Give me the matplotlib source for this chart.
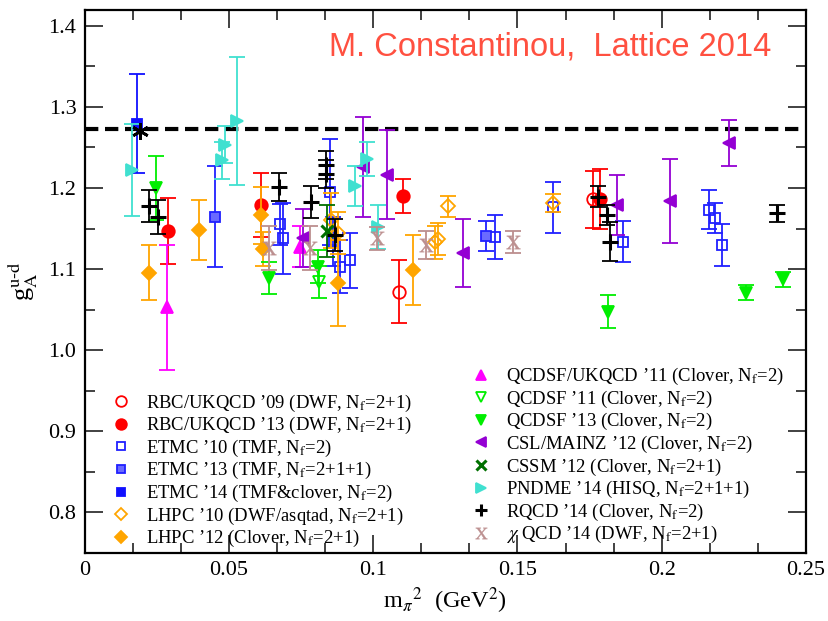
import numpy as np
import matplotlib
matplotlib.use("Agg")
import matplotlib.pyplot as plt
from matplotlib.lines import Line2D

plt.rcParams['font.family'] = ['Liberation Serif', 'DejaVu Serif']
plt.rcParams['mathtext.fontset'] = 'stix'

# ---- data: (m_pi^2, g_A, error) ----
rbc09_x = [0.109, 0.1763]
rbc09_y = [1.072, 1.186]
rbc09_e = [0.039, 0.035]

rbc13_x = [0.029, 0.0611, 0.1102, 0.1786]
rbc13_y = [1.147, 1.179, 1.190, 1.186]
rbc13_e = [0.041, 0.040, 0.021, 0.037]

etmc10_x = [0.0677, 0.0688, 0.085, 0.086, 0.0885, 0.092, 0.1422, 0.1624, 0.1865, 0.2165, 0.2185, 0.2208]
etmc10_y = [1.155, 1.138, 1.195, 1.134, 1.103, 1.111, 1.140, 1.176, 1.134, 1.173, 1.163, 1.130]
etmc10_e = [0.025, 0.044, 0.065, 0.030, 0.033, 0.034, 0.027, 0.031, 0.025, 0.024, 0.018, 0.026]

etmc13_x = [0.0452, 0.1391]
etmc13_y = [1.1645, 1.1407]
etmc13_e = [0.062, 0.018]

etmc14_x = [0.0182]
etmc14_y = [1.279]
etmc14_e = [0.061]

lhpc10_x = [0.0853, 0.0879, 0.1215, 0.1225, 0.126, 0.1622]
lhpc10_y = [1.160, 1.144, 1.133, 1.137, 1.1776, 1.181]
lhpc10_e = [0.034, 0.026, 0.020, 0.020, 0.013, 0.011]

lhpc12_x = [0.0223, 0.0397, 0.0611, 0.0619, 0.0879, 0.1139]
lhpc12_y = [1.0956, 1.148, 1.1665, 1.1247, 1.083, 1.099]
lhpc12_e = [0.034, 0.037, 0.035, 0.021, 0.053, 0.043]

qcdsfuk11_x = [0.0284, 0.0746]
qcdsfuk11_y = [1.053, 1.1276]
qcdsfuk11_e = [0.077, 0.025]

qcdsf11_x = [0.0813]
qcdsf11_y = [1.084]
qcdsf11_e = [0.020]

qcdsf13_x = [0.0247, 0.064, 0.081, 0.1815, 0.2292, 0.2419]
qcdsf13_y = [1.200, 1.0887, 1.103, 1.0477, 1.071, 1.0875]
qcdsf13_e = [0.040, 0.020, 0.020, 0.020, 0.009, 0.009]

csl12_x = [0.0758, 0.0966, 0.1047, 0.1312, 0.1844, 0.2029, 0.2234]
csl12_y = [1.138, 1.226, 1.2165, 1.120, 1.179, 1.1837, 1.2554]
csl12_e = [0.036, 0.062, 0.055, 0.042, 0.037, 0.052, 0.028]

cssm12_x = [0.0841]
cssm12_y = [1.147]
cssm12_e = [0.032]

pndme14_x = [0.0163, 0.0475, 0.0486, 0.0527, 0.0937, 0.0977, 0.1018]
pndme14_y = [1.222, 1.234, 1.2534, 1.2824, 1.2022, 1.236, 1.152]
pndme14_e = [0.057, 0.0225, 0.023, 0.079, 0.025, 0.021, 0.027]

rqcd14_x = [0.0224, 0.0253, 0.0675, 0.0783, 0.0836, 0.0836, 0.0868, 0.178, 0.1809, 0.182, 0.2401]
rqcd14_y = [1.178, 1.1637, 1.2013, 1.183, 1.228, 1.2175, 1.142, 1.189, 1.1665, 1.1337, 1.1686]
rqcd14_e = [0.020, 0.021, 0.017, 0.020, 0.017, 0.017, 0.020, 0.013, 0.012, 0.024, 0.011]

xqcd14_x = [0.064, 0.0781, 0.1012, 0.1183, 0.1486]
xqcd14_y = [1.1256, 1.1256, 1.138, 1.1297, 1.1337]
xqcd14_e = [0.027, 0.027, 0.014, 0.017, 0.0135]

phys_x = [0.0192]
phys_y = [1.270]
g_exp = 1.2723

NF = r'N$_{\rm f}$'
Q = '\u2019'
series = [
    # x, y, err, color, marker, filled, size, label, column
    (rbc09_x, rbc09_y, rbc09_e, '#ff0000', 'o', False, 9, "RBC/UKQCD " + Q + "09 (DWF, " + NF + "=2+1)", 0),
    (rbc13_x, rbc13_y, rbc13_e, '#ff0000', 'o', True, 9, "RBC/UKQCD " + Q + "13 (DWF, " + NF + "=2+1)", 0),
    (etmc10_x, etmc10_y, etmc10_e, '#2020ff', 's', False, 6.5, "ETMC " + Q + "10 (TMF, " + NF + "=2)", 0),
    (etmc13_x, etmc13_y, etmc13_e, '#2020ff', 's', 'hatch', 6.5, "ETMC " + Q + "13 (TMF, " + NF + "=2+1+1)", 0),
    (etmc14_x, etmc14_y, etmc14_e, '#1010ff', 's', True, 6.5, "ETMC " + Q + "14 (TMF&clover, " + NF + "=2)", 0),
    (lhpc10_x, lhpc10_y, lhpc10_e, '#ffa500', 'D', False, 7, "LHPC " + Q + "10 (DWF/asqtad, " + NF + "=2+1)", 0),
    (lhpc12_x, lhpc12_y, lhpc12_e, '#ffa500', 'D', True, 7, "LHPC " + Q + "12 (Clover, " + NF + "=2+1)", 0),
    (qcdsfuk11_x, qcdsfuk11_y, qcdsfuk11_e, '#ff00ff', '^', True, 9, "QCDSF/UKQCD " + Q + "11 (Clover, " + NF + "=2)", 1),
    (qcdsf11_x, qcdsf11_y, qcdsf11_e, '#00ee00', 'v', False, 9, "QCDSF " + Q + "11 (Clover, " + NF + "=2)", 1),
    (qcdsf13_x, qcdsf13_y, qcdsf13_e, '#00ee00', 'v', True, 9, "QCDSF " + Q + "13 (Clover, " + NF + "=2)", 1),
    (csl12_x, csl12_y, csl12_e, '#9400d3', '<', True, 9, "CSL/MAINZ " + Q + "12 (Clover, " + NF + "=2)", 1),
    (cssm12_x, cssm12_y, cssm12_e, '#007000', 'x', True, 8, "CSSM " + Q + "12 (Clover, " + NF + "=2+1)", 1),
    (pndme14_x, pndme14_y, pndme14_e, '#40e0d0', '>', True, 9, "PNDME " + Q + "14 (HISQ, " + NF + "=2+1+1)", 1),
    (rqcd14_x, rqcd14_y, rqcd14_e, '#000000', '+', True, 11, "RQCD " + Q + "14 (Clover, " + NF + "=2)", 1),
    (xqcd14_x, xqcd14_y, xqcd14_e, '#bc8f8f', r'$\mathrm{X}$', True, 10, r"$\chi$ QCD " + Q + "14 (DWF, " + NF + "=2+1)", 1),
]

fig = plt.figure(figsize=(8.29, 6.21), dpi=100)
ax = fig.add_axes([84.7 / 829, 1 - 553 / 621, (806 - 84.7) / 829, (553 - 9.5) / 621])

ax.axhline(g_exp, color='black', lw=3, ls=(0, (3.2, 1.6)), zorder=1)

handles = [[], []]
for x, y, e, c, m, filled, ms, lab, col in series:
    if filled == 'hatch':
        fc = '#6a6aff'
    elif filled:
        fc = c
    else:
        fc = 'none'
    if m in ('+', 'x'):
        mew = 2.2
    elif m.startswith('$'):
        mew = 0.3
    else:
        mew = 1.3
    ax.errorbar(x, y, yerr=e, fmt='none', ecolor=c, elinewidth=1.3, capsize=5.5,
                capthick=1.3, zorder=3)
    ax.plot(x, y, ls='none', marker=m, color=c, mfc=fc, mec=c, ms=ms, mew=mew, zorder=3)
    handles[col].append(Line2D([], [], ls='none', marker=m, color=c, mfc=fc, mec=c,
                               ms=ms * 0.85, mew=mew, label=lab))

ax.plot(phys_x, phys_y, ls='none', marker=(6, 2, 0), color='black', ms=12, mew=2, zorder=4)

ax.set_xlim(0, 0.25)
ax.set_ylim(0.75, 1.42)
ax.set_xticks([0, 0.05, 0.1, 0.15, 0.2, 0.25])
ax.set_xticklabels(['0', '0.05', '0.1', '0.15', '0.2', '0.25'])
ax.set_xticks(np.arange(0, 0.2501, 0.05 / 3), minor=True)
ax.set_yticks([0.8, 0.9, 1.0, 1.1, 1.2, 1.3, 1.4])
ax.set_yticks(np.arange(0.75, 1.42, 0.05), minor=True)
ax.tick_params(which='both', direction='in', top=True, right=True, color='#333333', width=1.3,
               labelsize=16, pad=6)
ax.tick_params(which='major', length=13)
ax.tick_params(which='minor', length=7)
for s in ax.spines.values():
    s.set_linewidth(1.6)

ax.set_xlabel(r'm$_\pi$$^2$  (GeV$^2$)', fontsize=17.5, labelpad=4)
ax.set_ylabel(r'g$_{\rm A}^{\rm u\text{-}d}$', fontsize=19, labelpad=6)

fig.text(0.664, 0.9245, 'M. Constantinou,  Lattice 2014', color='#ff5040',
         family='Liberation Sans', fontsize=23.5, ha='center', va='center')

kw = dict(frameon=False, fontsize=13.4, handlelength=1.0, handletextpad=0.85,
          borderpad=0, borderaxespad=0, labelspacing=0.08, loc='upper left')
fig.legend(handles=handles[0], bbox_to_anchor=(112 / 829, 1 - 392.5 / 621), **kw)
fig.legend(handles=handles[1], bbox_to_anchor=(472 / 829, 1 - 366 / 621), **kw)

fig.savefig('out.png', dpi=100)
